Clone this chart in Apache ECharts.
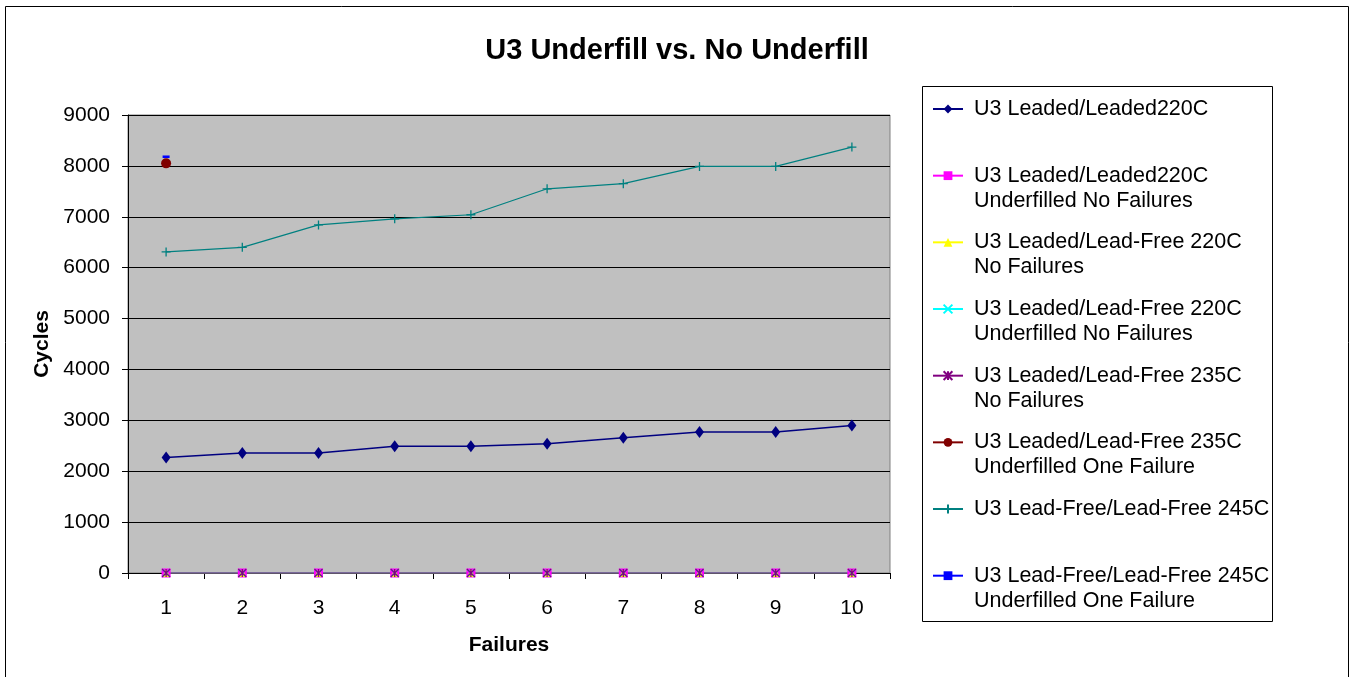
<!DOCTYPE html>
<html>
<head>
<meta charset="utf-8">
<title>U3 Underfill vs. No Underfill</title>
<script src="https://cdn.jsdelivr.net/npm/echarts@6/dist/echarts.min.js"></script>
<style>
  html, body { margin: 0; padding: 0; background: #fff; }
  #chart { width: 1354px; height: 677px; }
</style>
</head>
<body>
<div id="chart"></div>
<script>
// failures (x categories)
const failures = ['1', '2', '3', '4', '5', '6', '7', '8', '9', '10']
const yTicks = { min: 0, max: 9000, interval: 1000 }

// cycles per series
const leadedLeaded220 = [2270, 2360, 2360, 2490, 2490, 2540, 2660, 2770, 2770, 2900]
const leadedLeaded220Uf = [0, 0, 0, 0, 0, 0, 0, 0, 0, 0]
const leadedFree220 = [0, 0, 0, 0, 0, 0, 0, 0, 0, 0]
const leadedFree220Uf = [0, 0, 0, 0, 0, 0, 0, 0, 0, 0]
const leadedFree235 = [0, 0, 0, 0, 0, 0, 0, 0, 0, 0]
const leadedFree235Uf = [8050]
const freeFree245 = [6310, 6400, 6840, 6960, 7040, 7550, 7650, 7990, 7990, 8370]
const freeFree245Uf = [8180]

const seriesNames = [
  'U3 Leaded/Leaded220C',
  'U3 Leaded/Leaded220C\nUnderfilled No Failures',
  'U3 Leaded/Lead-Free 220C\nNo Failures',
  'U3 Leaded/Lead-Free 220C\nUnderfilled No Failures',
  'U3 Leaded/Lead-Free 235C\nNo Failures',
  'U3 Leaded/Lead-Free 235C\nUnderfilled One Failure',
  'U3 Lead-Free/Lead-Free 245C',
  'U3 Lead-Free/Lead-Free 245C\nUnderfilled One Failure'
]

const FONT = 'Arial, "Liberation Sans", sans-serif'
const LH = 25

const chart = echarts.init(document.getElementById('chart'))

function mk (name, data, color, symbol, size, lineWidth, stroke) {
  return {
    type: 'line',
    name: name,
    data: data,
    symbol: symbol,
    symbolSize: size,
    showSymbol: true,
    animation: false,
    lineStyle: { color: color, width: lineWidth },
    itemStyle: stroke
      ? { color: color, borderColor: color, borderWidth: 1.3 }
      : { color: color, borderWidth: 0 },
    emphasis: { disabled: true }
  }
}

const X_SYM = 'path://M0,0L10,10M10,0L0,10'
const STAR_SYM = 'path://M0,0L10,10M10,0L0,10M5,0L5,10'
const PLUS_SYM = 'path://M5,0L5,10M0,5L10,5'

const series = [
  mk(seriesNames[0], leadedLeaded220, '#000080', 'diamond', [9, 12], 1.5),
  mk(seriesNames[1], leadedLeaded220Uf, '#ff00ff', 'rect', 9, 1.2),
  mk(seriesNames[2], leadedFree220, '#ffff00', 'triangle', 8, 1.2),
  mk(seriesNames[3], leadedFree220Uf, '#00ffff', X_SYM, 7, 1.2, true),
  mk(seriesNames[4], leadedFree235, '#800080', STAR_SYM, 8, 1.2, true),
  mk(seriesNames[5], leadedFree235Uf, '#800000', 'circle', 10, 1.2),
  mk(seriesNames[6], freeFree245, '#008080', PLUS_SYM, 9, 1.2, true),
  mk(seriesNames[7], freeFree245Uf, '#0000ff', 'rect', [7, 2.5], 1.2)
]

// one legend block per entry, spaced like the original box
// (leading space widens the gap between icon and text)
const legends = seriesNames.map((n, i) => {
  const lines = n.split('\n').length
  const center = 109 + i * 66.67
  const h = lines === 1 ? LH : LH * 3
  return {
    data: [n],
    orient: 'vertical',
    left: 932,
    top: center - h / 2,
    padding: 0,
    itemWidth: 30,
    itemHeight: 11,
    itemGap: 0,
    selectedMode: false,
    formatter: name => {
      const t = ' ' + name.replace('\n', '\n ')
      return lines === 1 ? t : '\n' + t
    },
    textStyle: { fontFamily: FONT, fontSize: 21.5, color: '#000', lineHeight: LH }
  }
})

const option = {
  animation: false,
  backgroundColor: '#fff',
  title: {
    text: 'U3 Underfill vs. No Underfill',
    left: 'center',
    top: 31,
    textStyle: { fontFamily: FONT, fontSize: 29, fontWeight: 'bold', color: '#000' }
  },
  legend: legends,
  graphic: [
    {
      type: 'rect',
      shape: { x: 5.5, y: 6.5, width: 1343, height: 700 },
      style: { fill: 'none', stroke: '#000', lineWidth: 1 },
      silent: true,
      z: -10
    },
    {
      type: 'rect',
      shape: { x: 922.5, y: 86.5, width: 350, height: 535 },
      style: { fill: 'none', stroke: '#000', lineWidth: 1 },
      silent: true
    }
  ],
  grid: {
    left: 128,
    top: 115,
    width: 762,
    height: 458,
    show: true,
    backgroundColor: '#c0c0c0',
    borderColor: '#808080',
    borderWidth: 1
  },
  xAxis: {
    type: 'category',
    data: failures,
    boundaryGap: true,
    name: 'Failures',
    nameLocation: 'middle',
    nameGap: 62,
    nameTextStyle: { fontFamily: FONT, fontSize: 21, fontWeight: 'bold', color: '#000' },
    axisLine: { lineStyle: { color: '#000', width: 1 } },
    axisTick: { show: true, length: 6, alignWithLabel: false, lineStyle: { color: '#000' } },
    axisLabel: { fontFamily: FONT, fontSize: 21, color: '#000', margin: 25 },
    splitLine: { show: false }
  },
  yAxis: {
    type: 'value',
    min: yTicks.min,
    max: yTicks.max,
    interval: yTicks.interval,
    name: 'Cycles',
    nameLocation: 'middle',
    nameGap: 74,
    nameTextStyle: { fontFamily: FONT, fontSize: 21, fontWeight: 'bold', color: '#000' },
    axisLine: { show: true, lineStyle: { color: '#000', width: 1 } },
    axisTick: { show: true, length: 6, lineStyle: { color: '#000' } },
    axisLabel: { fontFamily: FONT, fontSize: 21, color: '#000', margin: 18, formatter: v => String(v) },
    splitLine: { show: true, lineStyle: { color: '#000', width: 1 } }
  },
  series: series
}

chart.setOption(option)
</script>
</body>
</html>
